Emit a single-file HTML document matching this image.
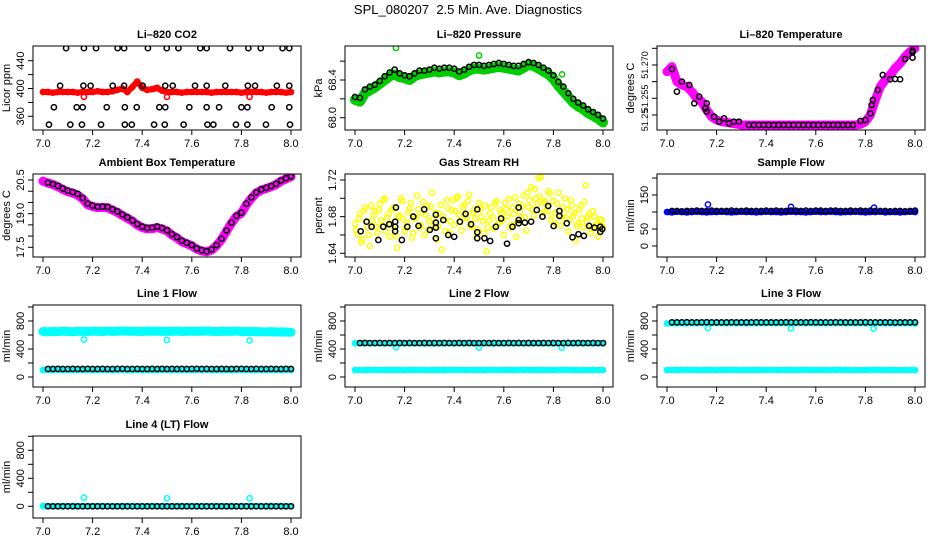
<!DOCTYPE html>
<html><head><meta charset="utf-8"><style>
html,body{margin:0;padding:0;background:#fff;}
svg{display:block;font-family:"Liberation Sans",Arial,sans-serif;}
</style></head><body>
<svg id="chart" width="936" height="540" viewBox="0 0 936 540">
<text x="468" y="14" text-anchor="middle" font-size="13">SPL_080207&#160; 2.5 Min. Ave. Diagnostics</text>
</svg>
<script>
// ---------- data ----------
const xTicks = [7.0,7.2,7.4,7.6,7.8,8.0];
const xTickLabels = ["7.0","7.2","7.4","7.6","7.8","8.0"];

const co2Red = [395,395,394,395,395,395,395,394,395,395,395,396,395,395,396,398,400,395,402,410,401,398,399,401,397,395,395,395,394,395,395,395,395,395,394,395,395,395,395,395,394,395,395,395,395,394,395,395,395,394,395];
const co2RedOutX = [7.165,7.5,7.833];
const co2RedOutY = [388,388,388];
const co2BlackX = [7.093,7.165,7.214,7.301,7.327,7.423,7.499,7.546,7.634,7.660,7.754,7.828,7.878,7.966,7.993,
 7.069,7.163,7.192,7.281,7.327,7.402,7.493,7.523,7.613,7.660,7.735,7.826,7.855,7.943,7.993,
 7.044,7.136,7.160,7.257,7.330,7.378,7.469,7.493,7.590,7.660,7.710,7.800,7.824,7.922,7.993,
 7.024,7.110,7.157,7.234,7.330,7.358,7.448,7.491,7.567,7.663,7.687,7.778,7.824,7.899,7.996];
const co2BlackY = [458,458,458,458,458,458,458,458,458,458,458,458,458,458,458,
 404,404,404,404,404,404,404,404,404,404,404,404,404,404,404,
 373,373,373,373,373,373,373,373,373,373,373,373,373,373,373,
 348,348,348,348,348,348,348,348,348,348,348,348,348,348,348];

const pressGreen = [68.19,68.17,68.26,68.29,68.32,68.36,68.40,68.44,68.46,68.43,68.42,68.40,68.44,68.46,68.47,68.48,68.49,68.48,68.49,68.49,68.48,68.45,68.47,68.50,68.52,68.52,68.51,68.52,68.53,68.54,68.53,68.52,68.51,68.50,68.53,68.56,68.55,68.52,68.49,68.46,68.41,68.34,68.28,68.22,68.16,68.12,68.09,68.05,68.02,67.99,67.95];
const pressBlack = [68.22,68.21,68.30,68.33,68.35,68.39,68.44,68.48,68.51,68.47,68.45,68.44,68.47,68.50,68.50,68.51,68.53,68.52,68.53,68.53,68.52,68.49,68.51,68.54,68.56,68.56,68.55,68.56,68.57,68.58,68.57,68.56,68.55,68.55,68.57,68.59,68.58,68.56,68.53,68.50,68.45,68.38,68.33,68.26,68.20,68.16,68.13,68.09,68.06,68.03,67.99];
const pressOutX = [7.165,7.5,7.835];
const pressOutY = [68.74,68.66,68.46];

const tempMag = [51.2630,51.2645,51.2600,51.2590,51.2585,51.2570,51.2550,51.2540,51.2515,51.2495,51.2485,51.2480,51.2478,51.2475,51.2473,
 51.2470,51.2470,51.2470,51.2470,51.2470,51.2470,51.2470,51.2470,51.2470,51.2470,51.2470,51.2470,51.2470,51.2470,51.2470,51.2470,51.2470,51.2470,51.2470,51.2470,51.2470,51.2470,51.2470,51.2470,
 51.2472,51.2480,51.2500,51.2545,51.2585,51.2605,51.2620,51.2640,51.2655,51.2675,51.2690,51.2700];
const tempBlackX = [7.02,7.04,7.06,7.09,7.11,7.13,7.155,7.16,7.16,7.19,7.21,7.23,7.25,7.27,7.29,
 7.33,7.35,7.37,7.39,7.41,7.43,7.45,7.47,7.49,7.51,7.53,7.55,7.57,7.59,7.61,7.63,7.65,7.67,7.69,7.71,7.73,7.75,
 7.78,7.80,7.82,7.825,7.83,7.85,7.87,7.90,7.92,7.94,7.96,7.99,7.99,7.99];
const tempBlackY = [51.2638,51.2570,51.2600,51.2590,51.2535,51.2555,51.2520,51.2510,51.2535,51.2495,51.2480,51.2490,51.2475,51.2480,51.2480,
 51.2470,51.2470,51.2470,51.2470,51.2470,51.2470,51.2470,51.2470,51.2470,51.2470,51.2470,51.2470,51.2470,51.2470,51.2470,51.2470,51.2470,51.2470,51.2470,51.2470,51.2470,51.2470,
 51.2482,51.2485,51.2505,51.2530,51.2545,51.2575,51.2620,51.2607,51.2608,51.2607,51.2668,51.2688,51.2693,51.2672];

const ambMag = [20.45,20.36,20.30,20.20,20.08,19.98,19.92,19.83,19.66,19.40,19.32,19.27,19.28,19.27,19.16,19.06,18.92,18.80,18.67,18.50,18.38,18.32,18.33,18.38,18.32,18.23,18.05,17.92,17.75,17.66,17.57,17.42,17.34,17.30,17.38,17.58,17.85,18.22,18.58,18.88,19.02,19.40,19.68,19.92,20.05,20.12,20.20,20.30,20.45,20.55,20.65];
const ambBlack = [20.38,20.32,20.24,20.12,20.02,19.96,19.88,19.70,19.45,19.36,19.30,19.31,19.30,19.20,19.10,18.96,18.84,18.70,18.54,18.42,18.36,18.37,18.42,18.36,18.26,18.09,17.96,17.79,17.70,17.60,17.45,17.37,17.32,17.40,17.60,17.88,18.25,18.60,18.90,19.05,19.44,19.72,19.95,20.08,20.15,20.23,20.33,20.48,20.58,20.66];

const rhYellowA = [1.672,1.661,1.683,1.655,1.690,1.668,1.648,1.676,1.686,1.662,1.694,1.670,1.700,1.679,1.658,1.688,1.666,1.646,1.681,1.697,1.664,
 1.673,1.689,1.657,1.678,1.703,1.668,1.684,1.660,1.692,1.675,1.706,1.670,1.655,1.683,1.644,1.676,1.698,1.663,1.687,1.671,
 1.700,1.682,1.665,1.693,1.678,1.704,1.669,1.688,1.657,1.695,1.680,1.662,1.642,1.676,1.690,1.667,1.697,1.673,1.684,1.660,
 1.688,1.699,1.671,1.683,1.658,1.694,1.677,1.703,1.665,1.690,1.712,1.681,1.700,1.722,1.723,1.695,1.686,1.708,1.676,1.697,
 1.684,1.706,1.670,1.690,1.679,1.664,1.698,1.681,1.654,1.673,1.692,1.668,1.714,1.680,1.662,1.686,1.671,1.658,1.677,1.669];
const rhYellowB = [1.665,1.678,1.652,1.686,1.674,1.660,1.692,1.681,1.669,1.687,1.676,1.698,1.664,1.683,1.672,1.690,1.659,1.680,1.700,1.677,
 1.668,1.685,1.695,1.662,1.679,1.688,1.671,1.696,1.682,1.666,1.691,1.677,1.684,1.669,1.693,1.680,1.664,1.689,1.675,1.698,
 1.686,1.702,1.674,1.690,1.681,1.697,1.670,1.684,1.678,1.666,1.688,1.675,1.692,1.668,1.683,1.679,1.694,1.672,1.687,1.676,
 1.695,1.680,1.668,1.690,1.701,1.674,1.685,1.692,1.679,1.706,1.698,1.688,1.710,1.694,1.702,1.684,1.697,1.690,1.705,1.682,
 1.673,1.694,1.686,1.679,1.700,1.688,1.676,1.692,1.684,1.670,1.688,1.678,1.696,1.674,1.683,1.668,1.680,1.672,1.666,1.676];
const rhBlackX = [7.023,7.047,7.067,7.094,7.114,7.138,7.162,7.162,7.162,7.165,7.189,7.211,7.235,7.256,7.279,7.302,7.326,7.326,7.326,7.326,7.356,7.376,7.400,7.423,7.446,7.468,7.493,7.493,7.493,7.522,7.545,7.568,7.589,7.613,7.635,7.660,7.660,7.660,7.685,7.710,7.733,7.756,7.779,7.801,7.824,7.824,7.854,7.877,7.901,7.923,7.944,7.966,7.989,7.989,7.997];
const rhBlackY = [1.664,1.6745,1.669,1.6545,1.669,1.6717,1.6745,1.669,1.664,1.690,1.6545,1.669,1.680,1.670,1.688,1.6655,1.682,1.6735,1.668,1.6564,1.6764,1.660,1.658,1.6745,1.683,1.6717,1.688,1.663,1.6564,1.6564,1.6534,1.669,1.678,1.6505,1.669,1.6764,1.6728,1.690,1.6735,1.6745,1.6873,1.680,1.6917,1.6698,1.6862,1.6808,1.6728,1.6575,1.6608,1.659,1.670,1.668,1.669,1.6635,1.6665];

const sampleBlue = [100,99,101,100,99,100,101,100,99,100,100,101,100,99,100,101,100,100,99,100,101,100,100,99,100,101,100,100,99,100,101,100,100,101,100,99,100,100,101,100,99,100,100,101,99,100,100,99,100,101,100];
const sampleBlack = [103,103,102,103,103,104,103,103,104,103,103,103,104,103,103,104,103,103,103,104,103,104,103,103,104,104,103,104,103,104,104,103,104,104,103,103,104,103,104,103,104,103,103,103,102,103,103,102,103,104];
const sampleOutX = [7.165,7.5,7.835];
const sampleOutY = [122,115,113];

const l1CyanHigh = [650,645,652,648,655,650,646,653,651,649,655,652,650,656,651,654,658,653,655,652,650,656,653,655,651,654,652,656,650,653,655,651,654,657,652,650,654,651,653,656,649,652,648,650,646,644,648,643,645,642,640];
const l1CyanLow = [100,101,100,100,101,100,100,100,101,100,100,100,101,100,100,100,101,100,100,100,101,100,100,101,100,100];
const l1Black = [115,115,116,115,115,116,115,115,117,115,115,116,115,115,116,117,115,115,116,115,115,116,115,116,115,116,115,116,115,116,117,115,116,115,115,116,115,115,116,117,115,115,116,115,115,116,115,115,116,115];
const l1OutX = [7.165,7.5,7.833];
const l1OutY = [535,528,522];

const l2CyanHigh = [480,481,480,479,480,481,480,480,479,481,480,480,481,480,479,480,481,480,480,481,480,479,480,480,481,480];
const l2CyanLow = [100,100,101,100,100,100,101,100,100,100,101,100,100,100,101,100,100,101,100,100,100,101,100,100,100,100];
const l2Black = [485,486,485,485,486,485,486,485,486,485,486,485,485,486,485,486,485,486,485,485,486,485,486,485,485,486,485,486,485,485,486,485,486,485,486,485,485,486,485,486,485,485,486,485,486,485,485,486,485,485];
const l2OutX = [7.165,7.5,7.833];
const l2OutY = [425,422,420];

const l3CyanHigh = [765,768,766,768,767,769,768,770,768,767,769,768,767,769,768,767,768,769,767,768,766,768,767,766,768,767];
const l3CyanLow = [100,100,101,100,100,100,101,100,100,100,101,100,100,100,101,100,100,101,100,100,100,101,100,100,100,100];
const l3Black = [780,781,780,782,781,780,781,782,780,781,780,781,782,780,781,780,781,782,780,781,780,781,780,782,781,780,781,780,782,781,780,781,780,782,781,780,781,780,781,782,780,781,780,781,780,779,780,781,780,781];
const l3OutX = [7.165,7.5,7.833];
const l3OutY = [700,695,690];

const l4Cyan = [2,1,2,2,1,2,2,1,2,2,1,2,2,1,2,2,1,2,2,1,2,2,1,2,2,1];
const l4Black = [0,0,0,0,0,0,0,0,0,0,0,0,0,0,0,0,0,0,0,0,0,0,0,0,0,0,0,0,0,0,0,0,0,0,0,0,0,0,0,0,0,0,0,0,0,0,0,0,0,0];
const l4OutX = [7.165,7.5,7.833];
const l4OutY = [122,115,115];

// ---------- drawing ----------
const NS = "http://www.w3.org/2000/svg";
const svg = document.getElementById("chart");
function mk(tag, attrs, parent){ const e=document.createElementNS(NS,tag); for(const k in attrs) e.setAttribute(k,attrs[k]); (parent||svg).appendChild(e); return e; }
const TOPS=[46,174,305,436], HS=[84,83,82,82];
function xsOf(i,n,start,step){ return start+i*step; }
let clipN=0;

function panel(o){
  const L=33+312*o.col, W=268, T=TOPS[o.row], H=HS[o.row];
  const g=mk("g",{});
  
  
  const xs = x => L+10+(x-7)*248;
  const ys = v => T+o.p0+(v-o.v0)*(o.p1-o.p0)/(o.v1-o.v0);
  const t=mk("text",{x:L+W/2,y:T-8,"text-anchor":"middle","font-size":"11","font-weight":"bold"},g);
  t.textContent=o.title;
  
  
  const xa=mk("g",{},g);
  
  
  xTicks.forEach((v,i)=>{
    mk("line",{x1:xs(v),x2:xs(v),y1:T+H,y2:T+H+5,stroke:"#000","stroke-width":1},xa);
    const tl=mk("text",{x:xs(v),y:T+H+17,"text-anchor":"middle","font-size":"11"},xa);
    tl.textContent=xTickLabels[i];
  });
  const ya=mk("g",{},g);
  
  
  o.yticks.forEach(v=>{ mk("line",{x1:L-5,x2:L,y1:ys(v),y2:ys(v),stroke:"#000","stroke-width":1},ya); });
  const lfs = o.labelSize || 11;
  o.ylabels.forEach(([v,s])=>{
    const yy=ys(v);
    const tl=mk("text",{x:0,y:0,"text-anchor":"middle","font-size":lfs,transform:`translate(${L-9},${yy}) rotate(-90)`},ya);
    tl.textContent=s;
  });
  const yt=mk("text",{x:0,y:0,"text-anchor":"middle","font-size":"11",transform:`translate(${L-23},${T+H/2}) rotate(-90)`},g);
  yt.textContent=o.ylab;
  
  
  const cid="c"+(clipN++);
  const cp=mk("clipPath",{id:cid},g); mk("rect",{x:L,y:T,width:W,height:H},cp);
  const area=mk("g",{"clip-path":`url(#${cid})`},g);
  o.series.forEach(s=>{
    const sg=mk("g",{},area);
    
    
    const xv = s.x ? s.x : s.y.map((_,i)=>xsOf(i,s.y.length,s.start,s.step));
    if(s.band){
      mk("polyline",{points:s.y.map((v,i)=>xs(xv[i])+","+ys(v)).join(" "),fill:"none",stroke:s.color,"stroke-width":s.band,"stroke-linejoin":"round","stroke-linecap":"round"},sg);
    }
    s.y.forEach((v,i)=>{
      const c=mk("circle",{cx:xs(xv[i]),cy:ys(v),r:2.6,fill:"none",stroke:s.color,"stroke-width":1.5},sg);
      
      
    });
  });
  const b=mk("rect",{x:L,y:T,width:W,height:H,fill:"none",stroke:"#000","stroke-width":1},g);
  
  
}
const flowTicks=[0,200,400,600,800,1000], flowLabels=[[0,"0"],[400,"400"],[800,"800"]];

panel({name:"co2",col:0,row:0,title:"Li\u2013820 CO2",ylab:"Licor ppm",v0:360,p0:70.3,v1:440,p1:14.7,
  yticks:[360,380,400,420,440],ylabels:[[360,"360"],[400,"400"],[440,"440"]],
  series:[{name:"co2-red",y:co2Red,start:7,step:0.02,color:"#ff0000",band:6},
          {name:"co2-red-outliers",x:co2RedOutX,y:co2RedOutY,color:"#ff0000"},
          {name:"co2-black",x:co2BlackX,y:co2BlackY,color:"#000"}]});
panel({name:"pressure",col:1,row:0,title:"Li\u2013820 Pressure",ylab:"kPa",v0:68.0,p0:71.7,v1:68.4,p1:34,
  yticks:[68.0,68.2,68.4,68.6],ylabels:[[68.0,"68.0"],[68.4,"68.4"]],
  series:[{name:"pressure-green",y:pressGreen,start:7,step:0.02,color:"#00cc00",band:10},
          {name:"pressure-green-outliers",x:pressOutX,y:pressOutY,color:"#00cc00"},
          {name:"pressure-black",y:pressBlack,start:7,step:0.02,color:"#000"}]});
panel({name:"temperature",col:2,row:0,title:"Li\u2013820 Temperature",ylab:"degrees C",v0:51.25,p0:69,v1:51.27,p1:2.3,labelSize:9,
  yticks:[51.25,51.255,51.26,51.265,51.27],ylabels:[[51.2485,"51.25"],[51.255,"51.255"],[51.265,"51.270"]],
  series:[{name:"temperature-magenta",y:tempMag,start:7,step:0.02,color:"#ff00ff",band:9},
          {name:"temperature-black",x:tempBlackX,y:tempBlackY,color:"#000"}]});
panel({name:"ambient",col:0,row:1,title:"Ambient Box Temperature",ylab:"degrees C",v0:17.5,p0:73.3,v1:20.5,p1:6,
  yticks:[17.5,18,18.5,19,19.5,20,20.5],ylabels:[[17.5,"17.5"],[19,"19.0"],[20.5,"20.5"]],
  series:[{name:"ambient-magenta",y:ambMag,start:7,step:0.02,color:"#ff00ff",band:9},
          {name:"ambient-black",y:ambBlack,start:7.02,step:0.02,color:"#000"}]});
panel({name:"rh",col:1,row:1,title:"Gas Stream RH",ylab:"percent",v0:1.64,p0:79.3,v1:1.72,p1:6,
  yticks:[1.64,1.66,1.68,1.70,1.72],ylabels:[[1.64,"1.64"],[1.68,"1.68"],[1.72,"1.72"]],
  series:[{name:"rh-yellow-a",y:rhYellowA,start:7,step:0.01,color:"#ffff00"},
          {name:"rh-yellow-b",y:rhYellowB,start:7.005,step:0.01,color:"#ffff00"},
          {name:"rh-black",x:rhBlackX,y:rhBlackY,color:"#000"}]});
panel({name:"sample-flow",col:2,row:1,title:"Sample Flow",ylab:"ml/min",v0:0,p0:72,v1:150,p1:21,
  yticks:[0,50,100,150,200],ylabels:[[0,"0"],[50,"50"],[150,"150"]],
  series:[{name:"sample-blue",y:sampleBlue,start:7,step:0.02,color:"#0000ff",band:6},
          {name:"sample-blue-outliers",x:sampleOutX,y:sampleOutY,color:"#0000ff"},
          {name:"sample-black",y:sampleBlack,start:7.02,step:0.02,color:"#000"}]});
panel({name:"line1",col:0,row:2,title:"Line 1 Flow",ylab:"ml/min",v0:0,p0:72,v1:800,p1:16,
  yticks:flowTicks,ylabels:flowLabels,
  series:[{name:"line1-cyan-high",y:l1CyanHigh,start:7,step:0.02,color:"#00ffff",band:9},
          {name:"line1-cyan-low",y:l1CyanLow,start:7,step:0.04,color:"#00ffff",band:6},
          {name:"line1-cyan-outliers",x:l1OutX,y:l1OutY,color:"#00ffff"},
          {name:"line1-black",y:l1Black,start:7.02,step:0.02,color:"#000"}]});
panel({name:"line2",col:1,row:2,title:"Line 2 Flow",ylab:"ml/min",v0:0,p0:72,v1:800,p1:16,
  yticks:flowTicks,ylabels:flowLabels,
  series:[{name:"line2-cyan-high",y:l2CyanHigh,start:7,step:0.04,color:"#00ffff",band:6},
          {name:"line2-cyan-low",y:l2CyanLow,start:7,step:0.04,color:"#00ffff",band:6},
          {name:"line2-cyan-outliers",x:l2OutX,y:l2OutY,color:"#00ffff"},
          {name:"line2-black",y:l2Black,start:7.02,step:0.02,color:"#000"}]});
panel({name:"line3",col:2,row:2,title:"Line 3 Flow",ylab:"ml/min",v0:0,p0:72,v1:800,p1:16,
  yticks:flowTicks,ylabels:flowLabels,
  series:[{name:"line3-cyan-high",y:l3CyanHigh,start:7,step:0.04,color:"#00ffff",band:6},
          {name:"line3-cyan-low",y:l3CyanLow,start:7,step:0.04,color:"#00ffff",band:6},
          {name:"line3-cyan-outliers",x:l3OutX,y:l3OutY,color:"#00ffff"},
          {name:"line3-black",y:l3Black,start:7.02,step:0.02,color:"#000"}]});
panel({name:"line4",col:0,row:3,title:"Line 4 (LT) Flow",ylab:"ml/min",v0:0,p0:70.3,v1:800,p1:14.3,
  yticks:flowTicks,ylabels:flowLabels,
  series:[{name:"line4-cyan",y:l4Cyan,start:7,step:0.04,color:"#00ffff",band:6},
          {name:"line4-cyan-outliers",x:l4OutX,y:l4OutY,color:"#00ffff"},
          {name:"line4-black",y:l4Black,start:7.02,step:0.02,color:"#000"}]});
</script>
</body></html>
